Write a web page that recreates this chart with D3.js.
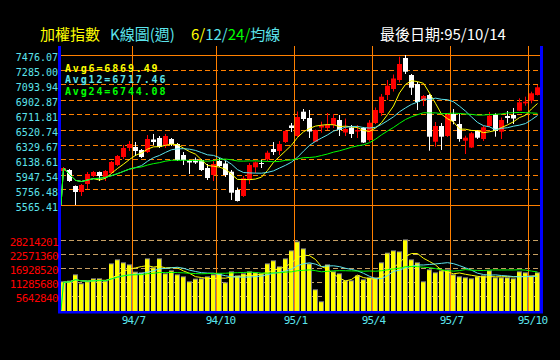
<!DOCTYPE html>
<html>
<head>
<meta charset="utf-8">
<script src="https://cdn.jsdelivr.net/npm/d3@7"></script>
<style>
body { margin: 0; background: #000; }
svg { display: block; }
</style>
</head>
<body>
<div id="chart"></div>
<script>
// weekly candles, 80 weeks up to 95/10/14
var opens = [5998.5, 6011.2, 5807.4, 5731.0, 5832.9, 5934.8, 5985.7, 5922.1, 5973.0, 6074.9,
	6176.8, 6291.5, 6304.2, 6266.0, 6240.5, 6399.7, 6418.8, 6316.9, 6406.1, 6342.4,
	6202.3, 6132.2, 6145.0, 6138.6, 6036.7, 5947.5, 6125.9, 6094.0, 5989.6, 5756.5,
	5680.0, 5896.6, 6045.6, 6100.4, 6147.5, 6278.7, 6253.3, 6367.9, 6578.1, 6444.3,
	6753.8, 6673.6, 6371.7, 6552.6, 6546.2, 6584.4, 6648.1, 6488.9, 6552.6, 6501.6,
	6546.2, 6393.4, 6609.9, 6737.3, 6966.6, 7043.0, 7157.6, 7437.9, 7221.3, 7106.7,
	6902.9, 6966.6, 6371.7, 6571.7, 6444.3, 6724.5, 6597.2, 6384.4, 6297.8, 6511.8,
	6406.1, 6571.7, 6711.8, 6499.1, 6699.1, 6711.8, 6766.6, 6860.8, 6894.0, 6966.6];
var highs = [6049.4, 6024.0, 5813.8, 5832.9, 5985.7, 5998.5, 5992.0, 6011.2, 6125.9, 6202.3,
	6329.7, 6380.6, 6367.9, 6278.7, 6457.1, 6469.8, 6444.3, 6469.8, 6418.8, 6355.2,
	6240.5, 6138.6, 6170.5, 6151.3, 6087.7, 6125.9, 6164.1, 6125.9, 6011.2, 5788.3,
	5934.8, 6100.4, 6119.5, 6138.6, 6257.1, 6367.9, 6380.6, 6520.7, 6609.9, 6756.4,
	6788.2, 6775.5, 6527.1, 6626.5, 6737.3, 6724.5, 6711.8, 6667.2, 6584.4, 6584.4,
	6559.0, 6648.1, 6807.3, 6979.3, 7157.6, 7227.7, 7454.4, 7476.07, 7234.1, 7132.2,
	6966.6, 6979.3, 6622.6, 6609.9, 6737.3, 6788.2, 6730.9, 6448.1, 6495.3, 6520.7,
	6575.5, 6750.0, 6733.5, 6680.0, 6762.8, 6801.0, 6924.5, 6944.9, 7008.6, 7093.9];
var lows = [5985.7, 5858.4, 5565.41, 5680.0, 5769.2, 5922.1, 5871.1, 5871.1, 5960.3, 6062.2,
	6151.3, 6253.3, 6189.6, 6164.1, 6227.8, 6329.7, 6291.5, 6291.5, 6316.9, 6125.9,
	6074.9, 5960.3, 6087.7, 5998.5, 5883.9, 5871.1, 6049.4, 5922.1, 5629.1, 5610.0,
	5667.3, 5832.9, 5973.0, 6036.7, 6125.9, 6202.3, 6202.3, 6355.2, 6495.3, 6431.6,
	6635.4, 6418.8, 6367.9, 6486.4, 6520.7, 6546.2, 6444.3, 6444.3, 6418.8, 6418.8,
	6355.2, 6371.7, 6597.2, 6699.1, 6902.9, 7011.1, 7125.8, 7234.1, 6966.6, 6775.5,
	6826.4, 6257.1, 6308.0, 6266.0, 6431.6, 6593.3, 6371.7, 6215.0, 6291.5, 6406.1,
	6380.6, 6559.0, 6435.4, 6406.1, 6606.1, 6597.2, 6762.8, 6830.3, 6860.8, 6960.2];
var closes = [6036.7, 5871.1, 5731.0, 5820.2, 5960.3, 5985.7, 5934.8, 5998.5, 6113.1, 6189.6,
	6291.5, 6342.4, 6253.3, 6176.8, 6406.1, 6367.9, 6304.2, 6444.3, 6342.4, 6138.6,
	6138.6, 6106.8, 6106.8, 6011.2, 5909.3, 6087.7, 6062.2, 5947.5, 5722.1, 5616.4,
	5905.5, 6074.9, 6109.3, 6094.0, 6231.6, 6240.5, 6342.4, 6508.0, 6546.2, 6686.3,
	6660.9, 6501.6, 6520.7, 6578.1, 6590.8, 6673.6, 6520.7, 6533.5, 6469.8, 6520.7,
	6361.5, 6613.7, 6775.5, 6944.9, 7085.0, 7176.7, 7361.4, 7263.4, 7059.5, 6877.4,
	6953.8, 6435.4, 6571.7, 6435.4, 6711.8, 6635.4, 6406.1, 6422.7, 6478.7, 6422.7,
	6555.1, 6702.9, 6508.0, 6648.1, 6673.6, 6667.2, 6873.6, 6881.2, 6988.2, 7064.6];
var volumes = [11320000, 11590000, 14130000, 10520000, 11320000, 12530000, 12530000, 11590000, 18550000, 20160000,
	18960000, 18150000, 15200000, 14940000, 20560000, 16950000, 20560000, 14540000, 15740000, 14130000,
	13330000, 11320000, 12390000, 12530000, 13330000, 14130000, 14540000, 10920000, 15340000, 13730000,
	14540000, 15340000, 14940000, 14540000, 18550000, 19760000, 17350000, 20560000, 23780000, 27400000,
	24580000, 18550000, 8110000, 3280000, 18150000, 15340000, 14540000, 11720000, 11720000, 13730000,
	12130000, 12930000, 12930000, 18960000, 22840000, 23780000, 23380000, 28200000, 20160000, 18960000,
	11320000, 16140000, 14940000, 15740000, 16140000, 14130000, 13330000, 12930000, 12530000, 13330000,
	13730000, 15740000, 12930000, 12930000, 12930000, 12530000, 15340000, 14940000, 13730000, 14940000];

var monthIdx = [12, 26, 39, 52, 65, 78];
var monthLabels = ["94/7", "94/10", "95/1", "95/4", "95/7", "95/10"];
var priceTicks = [5565.41, 5756.48, 5947.54, 6138.61, 6329.67, 6520.74, 6711.81, 6902.87, 7093.94, 7285.00, 7476.07];
var volTicks = [5642840, 11285680, 16928520, 22571360, 28214201];
var maDays = [6, 12, 24];
var legendTexts = ["Avg6=6869.49", "Avg12=6717.46", "Avg24=6744.08"];

var CYAN = "#5ce4ec";
var maColors = ["#ffff00", CYAN, "#00ff00"];
var MONO = "'DejaVu Sans Mono', monospace";
var CJK = "'Noto Sans CJK TC', 'Noto Sans CJK SC', sans-serif";

var svg = d3.select("#chart").append("svg")
	.attr("width", 560)
	.attr("height", 360)
	.style("background", "#000");

var x = d3.scaleBand()
	.domain(d3.range(closes.length))
	.range([61, 540])
	.paddingInner(1 / 6)
	.paddingOuter(0);
var yP = d3.scaleLinear().domain(d3.extent(priceTicks)).range([205, 55]);
var yV = d3.scaleLinear().domain([0, d3.max(volTicks)]).range([310.4, 240.3]);
var volBase = 311;

//grid
svg.append("g")
	.selectAll("line")
	.data(priceTicks)
	.enter().append("line")
	.attr("x1", 61).attr("x2", 540)
	.attr("y1", function(d) { return Math.floor(yP(d)) + 0.5; })
	.attr("y2", function(d) { return Math.floor(yP(d)) + 0.5; })
	.attr("stroke", "#ff8000")
	.attr("stroke-dasharray", function(d, i) {
		return (i === 0 || i === priceTicks.length - 1) ? null : "5,3";
	});

svg.append("g")
	.selectAll("line")
	.data(volTicks)
	.enter().append("line")
	.attr("x1", 61).attr("x2", 540)
	.attr("y1", function(d) { return Math.floor(yV(d)) + 0.5; })
	.attr("y2", function(d) { return Math.floor(yV(d)) + 0.5; })
	.attr("stroke", "#c8a064")
	.attr("stroke-dasharray", "5,3");

svg.append("g")
	.selectAll("line")
	.data(monthIdx)
	.enter().append("line")
	.attr("x1", function(d) { return x(d) - 0.5; })
	.attr("x2", function(d) { return x(d) - 0.5; })
	.attr("y1", 46).attr("y2", volBase)
	.attr("stroke", "#ff8000");

//volume bars
var bars = svg.append("g");
bars.selectAll(".vshadow")
	.data(volumes)
	.enter().append("rect")
	.attr("class", "vshadow")
	.attr("x", function(d, i) { return x(i); })
	.attr("y", function(d) { return yV(d) - 1; })
	.attr("width", x.bandwidth())
	.attr("height", function(d) { return volBase - yV(d) + 1; })
	.attr("fill", "#808080");
bars.selectAll(".vbar")
	.data(volumes)
	.enter().append("rect")
	.attr("class", "vbar")
	.attr("x", function(d, i) { return x(i); })
	.attr("y", function(d) { return yV(d); })
	.attr("width", x.bandwidth() - 1)
	.attr("height", function(d) { return volBase - yV(d); })
	.attr("fill", "#ffff00");

//candles
var candles = svg.append("g")
	.selectAll("g")
	.data(closes)
	.enter().append("g");

function candleColor(i) {
	return closes[i] >= opens[i] ? "#ff0000" : "#ffffff";
}

candles.append("line")
	.attr("x1", function(d, i) { return x(i) + 2.5; })
	.attr("x2", function(d, i) { return x(i) + 2.5; })
	.attr("y1", function(d, i) { return yP(highs[i]); })
	.attr("y2", function(d, i) { return yP(lows[i]); })
	.attr("stroke", function(d, i) { return candleColor(i); });

candles.append("rect")
	.attr("x", function(d, i) { return x(i); })
	.attr("y", function(d, i) { return yP(Math.max(opens[i], closes[i])); })
	.attr("width", x.bandwidth())
	.attr("height", function(d, i) {
		return Math.max(1, Math.abs(yP(opens[i]) - yP(closes[i])));
	})
	.attr("fill", function(d, i) { return candleColor(i); });

//moving averages, window grows until it is full
function movingAvg(vals, n) {
	return vals.map(function(v, i) {
		return d3.mean(vals.slice(Math.max(0, i - n + 1), i + 1));
	});
}

function drawAvg(vals, scale) {
	var line = d3.line()
		.x(function(d) { return d[0]; })
		.y(function(d) { return d[1]; });
	maDays.forEach(function(n, k) {
		var pts = movingAvg(vals, n).map(function(v, i) {
			return [x(i) + 2.5, scale(v)];
		});
		pts.unshift([x(0), scale.range()[0]]);
		svg.append("path")
			.attr("d", line(pts))
			.attr("fill", "none")
			.attr("stroke", maColors[k])
			.attr("stroke-width", 1);
	});
}

drawAvg(closes, yP);
drawAvg(volumes, yV);

//frame
svg.append("rect").attr("x", 58).attr("y", 46).attr("width", 3).attr("height", 267).attr("fill", "#0000ff");
svg.append("rect").attr("x", 540).attr("y", 46).attr("width", 3).attr("height", 267).attr("fill", "#0000ff");
svg.append("rect").attr("x", 58).attr("y", 311).attr("width", 485).attr("height", 2.5).attr("fill", "#0000ff");

//axes
var pAxis = svg.append("g")
	.attr("transform", "translate(58,0)")
	.call(d3.axisLeft(yP).tickValues(priceTicks).tickFormat(d3.format(".2f")).tickSize(0).tickPadding(0));
pAxis.select(".domain").remove();
pAxis.attr("font-family", MONO).attr("font-size", 10);
pAxis.selectAll("text").attr("fill", CYAN).attr("dy", "0.58em");

var vAxis = svg.append("g")
	.attr("transform", "translate(58,0)")
	.call(d3.axisLeft(yV).tickValues(volTicks).tickFormat(d3.format("d")).tickSize(0).tickPadding(0));
vAxis.select(".domain").remove();
vAxis.attr("font-family", MONO).attr("font-size", 11);
vAxis.selectAll("text").attr("fill", "#ff0000").attr("dy", "0.5em").attr("letter-spacing", "-0.6px");

svg.append("g")
	.selectAll("text")
	.data(monthIdx)
	.enter().append("text")
	.attr("x", function(d) { return x(d) - 11.3; })
	.attr("y", 324)
	.attr("font-family", MONO)
	.attr("font-size", 11)
	.attr("letter-spacing", "-0.7px")
	.attr("fill", CYAN)
	.text(function(d, i) { return monthLabels[i]; });

//legend
svg.append("g")
	.selectAll("text")
	.data(legendTexts)
	.enter().append("text")
	.attr("x", 65)
	.attr("y", function(d, i) { return 71.6 + i * 11.7; })
	.attr("font-family", MONO)
	.attr("font-size", 10)
	.attr("font-weight", "bold")
	.attr("letter-spacing", "1.85px")
	.attr("fill", function(d, i) { return maColors[i]; })
	.text(function(d) { return d; });

//title
var title = svg.append("g")
	.attr("font-family", CJK)
	.attr("font-size", 15);
title.append("text").attr("x", 40).attr("y", 40).attr("fill", "#ffff00").text("加權指數");
title.append("text").attr("x", 110).attr("y", 40).attr("fill", CYAN).text("K線圖(週)");
var t3 = title.append("text").attr("x", 191).attr("y", 40);
t3.append("tspan").attr("fill", "#ffff00").text("6/");
t3.append("tspan").attr("fill", CYAN).text("12/");
t3.append("tspan").attr("fill", "#00ff00").text("24/");
t3.append("tspan").attr("fill", CYAN).text("均線");
title.append("text").attr("x", 380).attr("y", 40).attr("fill", "#ffffff").text("最後日期:95/10/14");
</script>
</body>
</html>
